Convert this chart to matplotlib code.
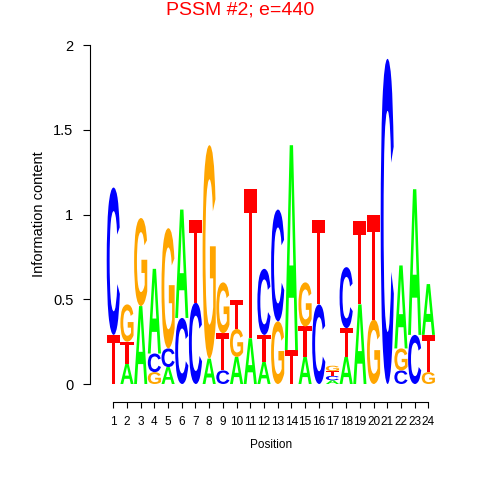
import matplotlib
matplotlib.use("Agg")
import matplotlib.pyplot as plt
from matplotlib.textpath import TextPath
from matplotlib.font_manager import FontProperties
from matplotlib.patches import PathPatch
from matplotlib.transforms import Affine2D

# information content (bits) of each base at each position
positions = list(range(1, 25))
bits_A = [0, 0.12, 0.46, 0.50, 0.10, 0.64, 0, 0.15, 0, 0.16, 0.27, 0.13,
          0, 1.21, 0.16, 0, 0.022, 0.16, 0.47, 0, 0, 0.49, 0.86, 0.30]
bits_C = [0.87, 0, 0, 0.11, 0.11, 0.39, 0.48, 0, 0.08, 0, 0, 0.39,
          0.66, 0, 0, 0.47, 0.026, 0.36, 0, 0, 1.92, 0.08, 0.29, 0]
bits_G = [0, 0.22, 0.52, 0.07, 0.71, 0, 0, 1.26, 0.30, 0.165, 0, 0,
          0.37, 0, 0.26, 0, 0.032, 0, 0, 0.38, 0, 0.13, 0, 0.07]
bits_T = [0.29, 0.13, 0, 0, 0, 0, 0.49, 0, 0.22, 0.17, 0.88, 0.16,
          0, 0.20, 0.18, 0.50, 0.028, 0.17, 0.49, 0.62, 0, 0, 0, 0.22]

colors = {'A': '#00FF00', 'C': '#0000FF', 'G': '#FFA500', 'T': '#FF0000'}

plt.rcParams['font.family'] = ['Liberation Sans', 'DejaVu Sans']
glyph_font = FontProperties(family='Liberation Sans', weight='bold')

fig = plt.figure(figsize=(4.8, 4.8), dpi=100)
ax = fig.add_axes([90/480, 96/480, 350/480, (384-45.3)/480])
ax.set_xlim(-0.70, 24.85)
ax.set_ylim(0, 2)


def draw_letter(ch, x, y0, h, w=0.96):
    tp = TextPath((0, 0), ch, size=1, prop=glyph_font)
    bb = tp.get_extents()
    tr = (Affine2D().translate(-bb.x0, -bb.y0)
          .scale(w / bb.width, h / bb.height)
          .translate(x - w / 2, y0))
    ax.add_patch(PathPatch(tr.transform_path(tp), fc=colors[ch], ec='none'))


for i, p in enumerate(positions):
    col = [('A', bits_A[i]), ('C', bits_C[i]), ('G', bits_G[i]), ('T', bits_T[i])]
    col = sorted([c for c in col if c[1] > 0], key=lambda c: c[1])
    y = 0
    for ch, h in col:
        draw_letter(ch, p, y, h)
        y += h

for s in ['top', 'right']:
    ax.spines[s].set_visible(False)
ax.spines['bottom'].set_position(('outward', 13))
ax.spines['bottom'].set_bounds(1, 24)
ax.spines['left'].set_bounds(0, 2)
ax.set_xticks(positions)
ax.set_xticklabels([str(p) for p in positions], fontsize=8.5)
ax.set_yticks([0, 0.5, 1, 1.5, 2])
ax.set_yticklabels(['0', '0.5', '1', '1.5', '2'], fontsize=10.5)
ax.tick_params(axis='x', length=4.3, pad=6)
ax.tick_params(axis='y', length=5, pad=7)

fig.text(271/480, 1 - 445/480, 'Position', fontsize=8.5, ha='center', va='center')
fig.text(39/480, 1 - 214.5/480, 'Information content', fontsize=10.5,
         rotation=90, ha='center', va='center')
fig.text(0.5, 1 - 10/480, 'PSSM #2; e=440', color='red', fontsize=14,
         ha='center', va='center')

fig.savefig('out.png', dpi=100)
